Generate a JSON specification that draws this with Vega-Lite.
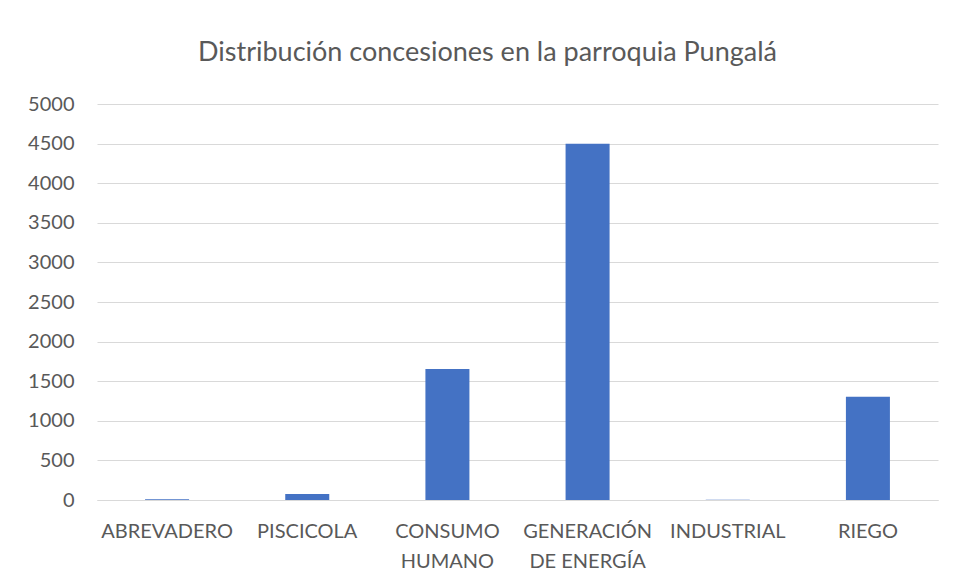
{
  "$schema": "https://vega.github.io/schema/vega-lite/v6.json",
  "width": 841,
  "height": 396,
  "autosize": {"type": "none"},
  "padding": {"left": 97, "top": 104, "right": 17, "bottom": 84},
  "background": "white",
  "title": {
    "text": "Distribución concesiones en la parroquia Pungalá",
    "font": "Lato",
    "fontSize": 27,
    "fontWeight": "normal",
    "color": "#595959",
    "anchor": "middle",
    "dx": -30,
    "offset": 27
  },
  "data": {
    "values": [
      {"uso": "ABREVADERO", "valor": 10},
      {"uso": "PISCICOLA", "valor": 76},
      {"uso": "CONSUMO HUMANO", "valor": 1654},
      {"uso": "GENERACIÓN DE ENERGÍA", "valor": 4498},
      {"uso": "INDUSTRIAL", "valor": 3},
      {"uso": "RIEGO", "valor": 1304}
    ]
  },
  "mark": {"type": "bar", "color": "#4472C4"},
  "encoding": {
    "x": {
      "field": "uso",
      "type": "nominal",
      "sort": null,
      "title": null,
      "scale": {"paddingInner": 0.686, "paddingOuter": 0.343},
      "axis": {
        "labelAngle": 0,
        "labelFont": "Lato",
        "labelFontSize": 20,
        "labelColor": "#595959",
        "labelPadding": 31,
        "labelLineHeight": 30,
        "labelBaseline": "middle",
        "ticks": false,
        "domainColor": "#d9d9d9",
        "domainWidth": 1,
        "labelExpr": "datum.value == 'CONSUMO HUMANO' ? ['CONSUMO', 'HUMANO'] : datum.value == 'GENERACIÓN DE ENERGÍA' ? ['GENERACIÓN', 'DE ENERGÍA'] : datum.value"
      }
    },
    "y": {
      "field": "valor",
      "type": "quantitative",
      "title": null,
      "scale": {"domain": [0, 5000], "nice": false},
      "axis": {
        "values": [0, 500, 1000, 1500, 2000, 2500, 3000, 3500, 4000, 4500, 5000],
        "format": "d",
        "labelFont": "Lato",
        "labelFontSize": 20,
        "labelColor": "#595959",
        "labelPadding": 23,
        "ticks": false,
        "domain": false,
        "gridColor": "#d9d9d9",
        "gridWidth": 1
      }
    }
  },
  "config": {"view": {"stroke": null}}
}
